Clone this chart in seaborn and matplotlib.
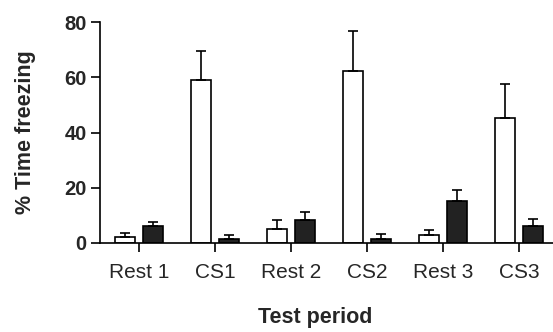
import seaborn as sns
import matplotlib.pyplot as plt
import pandas as pd

periods = ["Rest 1", "CS1", "Rest 2", "CS2", "Rest 3", "CS3"]
groups = ["Group A", "Group B"]
mean_a = [2.0, 59.0, 5.0, 62.4, 2.8, 45.1]
mean_b = [6.2, 1.3, 8.3, 1.4, 15.3, 6.2]
sem_a = [1.5, 10.6, 3.3, 14.5, 2.0, 12.5]
sem_b = [1.5, 1.6, 2.9, 1.9, 3.9, 2.5]

data = pd.DataFrame({
    "period": periods * 2,
    "group": [groups[0]] * 6 + [groups[1]] * 6,
    "freezing": mean_a + mean_b,
})

sns.set_style("ticks")
plt.rcParams["font.family"] = ["Liberation Sans", "DejaVu Sans"]

fig = plt.figure(figsize=(5.53, 3.32), dpi=100)
ax = fig.add_axes([100 / 553, 89 / 332, 453 / 553, 221 / 332])

sns.barplot(data=data, x="period", y="freezing", hue="group",
            order=periods, hue_order=groups,
            palette=["white", "#222222"], edgecolor="black", linewidth=1.2,
            width=0.737, gap=0.285, errorbar=None, legend=False, ax=ax)

# one-sided error bars, placed on the bars seaborn drew
for cont, errs in zip(ax.containers, [sem_a, sem_b]):
    for bar, e in zip(cont, errs):
        xc = bar.get_x() + bar.get_width() / 2
        ax.errorbar(xc, bar.get_height(), yerr=[[0], [e]], fmt="none",
                    ecolor="black", elinewidth=1.2, capsize=3.6,
                    capthick=1.2, zorder=1)

ax.set_ylim(0, 80)
ax.set_yticks([0, 20, 40, 60, 80])
ax.set_xlim(-0.513, 5.447)
sns.despine(ax=ax)
for side in ["left", "bottom"]:
    ax.spines[side].set_linewidth(1.2)
    ax.spines[side].set_color("black")

ax.tick_params(axis="both", length=6.5, width=1.2, color="black")
ax.tick_params(axis="y", labelsize=14.5, pad=3)
ax.tick_params(axis="x", labelsize=15, pad=8)
for lab in ax.get_yticklabels():
    lab.set_fontweight("bold")

ax.set_xlabel("")
ax.set_ylabel("% Time freezing", fontsize=15.5, fontweight="bold")
ax.yaxis.set_label_coords(-0.142, 0.5)
fig.text(315 / 553, 9 / 332, "Test period", fontsize=15.5, fontweight="bold",
         ha="center", va="baseline")

fig.savefig("out.png", dpi=100)
